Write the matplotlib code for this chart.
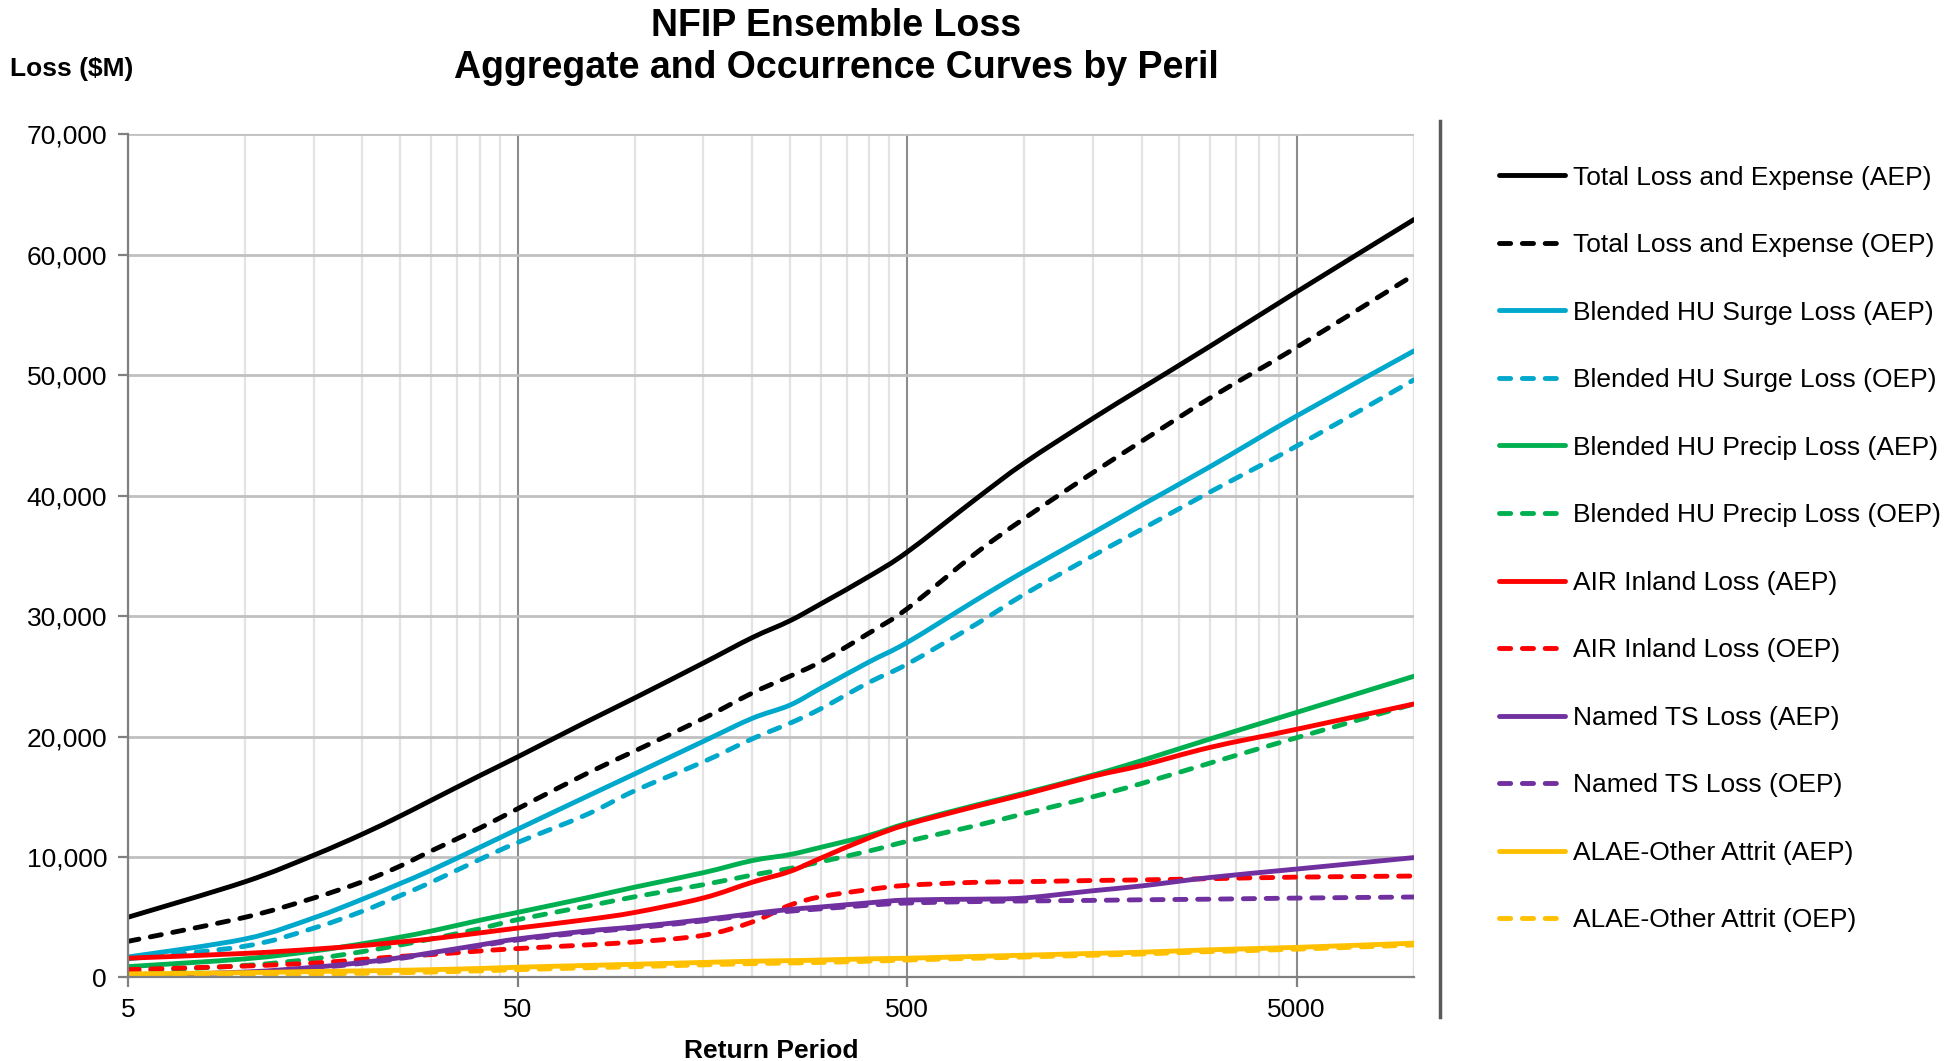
import numpy as np
import matplotlib
matplotlib.use("Agg")
import matplotlib.pyplot as plt
import matplotlib.ticker as mticker
from matplotlib.lines import Line2D
from matplotlib.path import Path
from matplotlib.patches import PathPatch

plt.rcParams["font.family"] = ["Liberation Sans", "DejaVu Sans"]

# ======================
# data (return period in years, loss in $M)
# ======================
return_period = [5, 10, 15, 20, 25, 30, 40, 50, 75, 100, 150, 200, 250, 300,
                 400, 500, 750, 1000, 1500, 2000, 3000, 5000, 10000]

total_aep = [5000, 7950, 10150, 11900, 13400, 14700, 16750, 18300, 21200, 23200, 26100, 28200,
             29600, 31000, 33300, 35300, 39700, 42700, 46400, 48900, 52400, 56900, 62900]
total_oep = [3000, 5000, 6600, 7950, 9250, 10500, 12400, 14000, 16900, 18800, 21500, 23600,
             25000, 26200, 28600, 30600, 35200, 38100, 41900, 44500, 48100, 52300, 58300]
surge_aep = [1700, 3200, 4950, 6500, 7800, 8900, 10800, 12300, 15000, 16900, 19600, 21500,
             22600, 24000, 26200, 27800, 31300, 33700, 36900, 39200, 42400, 46600, 52000]
surge_oep = [1550, 2600, 4100, 5500, 6800, 7900, 9800, 11200, 13500, 15500, 17900, 19800,
             21100, 22300, 24500, 26000, 29300, 31800, 35000, 37200, 40300, 44100, 49600]
precip_aep = [900, 1550, 2200, 2800, 3350, 3850, 4750, 5400, 6600, 7500, 8700, 9700,
              10200, 10800, 11800, 12800, 14300, 15300, 16800, 18000, 19800, 22000, 25000]
precip_oep = [500, 1000, 1550, 2150, 2700, 3200, 4050, 4800, 5900, 6700, 7700, 8500,
              9050, 9600, 10500, 11300, 12600, 13600, 15000, 16100, 17800, 19900, 22700]
inland_aep = [1600, 2000, 2350, 2650, 2950, 3200, 3700, 4100, 4800, 5400, 6600, 7900,
              8800, 9900, 11600, 12700, 14200, 15200, 16700, 17600, 19100, 20600, 22700]
inland_oep = [650, 950, 1200, 1500, 1750, 1900, 2200, 2400, 2700, 2950, 3500, 4600,
              6000, 6700, 7300, 7650, 7900, 7950, 8050, 8100, 8200, 8330, 8420]
ts_aep = [150, 450, 850, 1250, 1650, 2050, 2700, 3200, 3850, 4200, 4800, 5300,
          5650, 5850, 6200, 6430, 6500, 6600, 7200, 7600, 8300, 9000, 9950]
ts_oep = [80, 380, 780, 1180, 1580, 1980, 2620, 3120, 3750, 4100, 4700, 5200,
          5500, 5700, 6000, 6180, 6300, 6350, 6400, 6450, 6500, 6590, 6680]
alae_aep = [300, 400, 500, 550, 600, 650, 750, 850, 1000, 1100, 1250, 1350,
            1400, 1450, 1550, 1600, 1750, 1850, 2000, 2100, 2300, 2500, 2850]
alae_oep = [100, 200, 300, 350, 400, 450, 550, 650, 800, 900, 1050, 1150,
            1200, 1250, 1350, 1450, 1600, 1700, 1850, 1950, 2150, 2350, 2700]

series = [
    ("Total Loss and Expense (AEP)", total_aep, "black", "-"),
    ("Total Loss and Expense (OEP)", total_oep, "black", "--"),
    ("Blended HU Surge Loss (AEP)", surge_aep, "#00A8CC", "-"),
    ("Blended HU Surge Loss (OEP)", surge_oep, "#00A8CC", "--"),
    ("Blended HU Precip Loss (AEP)", precip_aep, "#00B050", "-"),
    ("Blended HU Precip Loss (OEP)", precip_oep, "#00B050", "--"),
    ("AIR Inland Loss (AEP)", inland_aep, "#FF0000", "-"),
    ("AIR Inland Loss (OEP)", inland_oep, "#FF0000", "--"),
    ("Named TS Loss (AEP)", ts_aep, "#7030A0", "-"),
    ("Named TS Loss (OEP)", ts_oep, "#7030A0", "--"),
    ("ALAE-Other Attrit (AEP)", alae_aep, "#FFC000", "-"),
    ("ALAE-Other Attrit (OEP)", alae_oep, "#FFC000", "--"),
]


def smooth_path(xs, ys):
    # Excel-style "smoothed line": bezier segments through the data points,
    # control points built in log-x space (the axis transform maps them)
    lx = np.log10(np.asarray(xs, float))
    y = np.asarray(ys, float)
    n = len(lx)
    verts = [(xs[0], y[0])]
    codes = [Path.MOVETO]
    for i in range(n - 1):
        p = max(i - 1, 0)
        q = min(i + 2, n - 1)
        c1x = lx[i] + (lx[i + 1] - lx[p]) / 6
        c1y = y[i] + (y[i + 1] - y[p]) / 6
        c2x = lx[i + 1] - (lx[q] - lx[i]) / 6
        c2y = y[i + 1] - (y[q] - y[i]) / 6
        verts += [(10 ** c1x, c1y), (10 ** c2x, c2y), (xs[i + 1], y[i + 1])]
        codes += [Path.CURVE4] * 3
    return Path(verts, codes)


# ======================
# figure
# ======================
fig = plt.figure(figsize=(19.5, 10.61), dpi=100)
ax = fig.add_axes([0.0656, 0.0787, 0.6595, 0.795])

lw = 3.5
handles = []
for k, (label, vals, color, ls) in enumerate(series):
    style = dict(color=color, lw=lw)
    if ls == "--":
        patch = PathPatch(smooth_path(return_period, vals), fill=False, edgecolor=color,
                          lw=lw, linestyle=(0, (2.3, 2.4)), capstyle="round",
                          joinstyle="round", zorder=2 + k * 0.01)
        h = Line2D([], [], dashes=(2.3, 2.4), dash_capstyle="round", label=label, **style)
    else:
        patch = PathPatch(smooth_path(return_period, vals), fill=False, edgecolor=color,
                          lw=lw, capstyle="round", joinstyle="round", zorder=2 + k * 0.01)
        h = Line2D([], [], solid_capstyle="round", label=label, **style)
    ax.add_patch(patch)
    handles.append(h)

ax.set_xscale("log")
ax.set_xlim(5, 10000)
ax.set_ylim(0, 70000)

ax.xaxis.set_major_locator(mticker.FixedLocator([5, 50, 500, 5000]))
ax.xaxis.set_major_formatter(mticker.FixedFormatter(["5", "50", "500", "5000"]))
minor = [m * d for d in (1, 10, 100, 1000) for m in range(10, 50, 5)] + [10000]
ax.xaxis.set_minor_locator(mticker.FixedLocator(minor))
ax.xaxis.set_minor_formatter(mticker.NullFormatter())

ax.yaxis.set_major_locator(mticker.MultipleLocator(10000))
ax.yaxis.set_major_formatter(mticker.FuncFormatter(lambda v, p: f"{v:,.0f}"))

ax.grid(which="minor", axis="x", color="#E3E3E3", lw=1.6, zorder=0)
ax.grid(which="major", axis="x", color="#8C8C8C", lw=1.5, zorder=0)
ax.grid(which="major", axis="y", color="#C0C0C0", lw=2.0, zorder=0)
ax.set_axisbelow(True)

for s in ("top", "right"):
    ax.spines[s].set_visible(False)
for s in ("left", "bottom"):
    ax.spines[s].set_color("#808080")
    ax.spines[s].set_linewidth(1.6)

ax.tick_params(axis="both", which="major", labelsize=19, color="#808080",
               width=1.6, length=7, pad=8)
ax.tick_params(axis="x", which="minor", length=0)

ax.set_xlabel("Return Period", fontsize=19, fontweight="bold", labelpad=12)

fig.text(0.005, 0.935, "Loss ($M)", fontsize=19, fontweight="bold", ha="left", va="center")
fig.text(0.4287, 0.992, "NFIP Ensemble Loss\nAggregate and Occurrence Curves by Peril",
         fontsize=27, fontweight="bold", ha="center", va="top", linespacing=1.2)

# separator between plot and legend
fig.add_artist(Line2D([0.7385, 0.7385], [1 - 121 / 1061, 1 - 1017 / 1061],
                      transform=fig.transFigure, color="#595959", lw=2.5))

fig.legend(handles=handles, loc="upper left", bbox_to_anchor=(0.7687, 0.844),
           frameon=False, fontsize=19, handlelength=2.5, handletextpad=0.3,
           labelspacing=1.65, borderpad=0, borderaxespad=0)

plt.savefig("out.png", dpi=100)
